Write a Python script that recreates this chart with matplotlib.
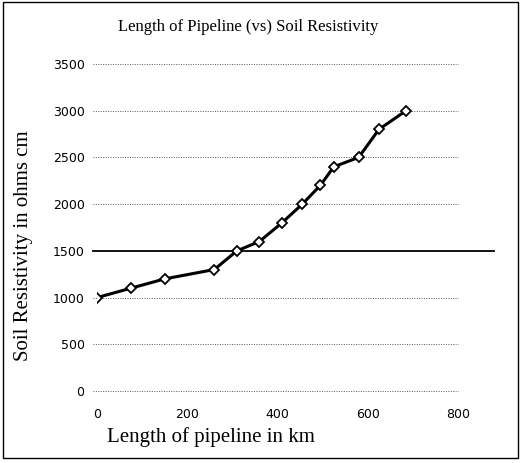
import matplotlib.pyplot as plt
from matplotlib.patches import Rectangle

# data
length_km = [0, 75, 150, 260, 310, 360, 410, 455, 495, 525, 580, 625, 685]
resistivity = [1000, 1100, 1200, 1300, 1500, 1600, 1800, 2000, 2200, 2400, 2500, 2800, 3000]
x_ticks = [0, 200, 400, 600, 800]
y_ticks = [0, 500, 1000, 1500, 2000, 2500, 3000, 3500]
ref_level = 1500

serif = 'Liberation Serif'

fig = plt.figure(figsize=(5.23, 4.63), dpi=100)
ax = fig.add_axes([0.1855, 0.1555, 0.690, 0.7063])

ax.plot(length_km, resistivity, color='black', lw=2.2, marker='D', ms=5,
        mfc='white', mec='black', mew=1.3, zorder=4)

# solid horizontal reference line running past the plot area
ax.plot([-10, 880], [ref_level, ref_level], color='black', lw=1.3,
        clip_on=False, zorder=3)

ax.set_xlim(0, 800)
ax.set_ylim(0, 3500)
ax.set_xticks(x_ticks)
ax.set_yticks(y_ticks)
for y in y_ticks:
    if y != ref_level:
        ax.plot([-10, 800], [y, y], color='#555555', ls=(0, (1, 1.5)), lw=0.7,
                clip_on=False, zorder=1)
for s in ax.spines.values():
    s.set_visible(False)
ax.tick_params(length=0, labelsize=9, pad=9)
ax.tick_params(axis='x', pad=12)

fig.text(0.474, 0.942, 'Length of Pipeline (vs) Soil Resistivity', family=serif,
         fontsize=12, ha='center', va='center')
fig.text(0.205, 0.056, 'Length of pipeline in km', family=serif, fontsize=15,
         ha='left', va='center')
fig.text(0.044, 0.47, 'Soil Resistivity in ohms cm', family=serif, fontsize=15,
         rotation=90, ha='center', va='center')

# chart border
fig.patches.append(Rectangle((0.006, 0.01), 0.984, 0.985, transform=fig.transFigure,
                             fill=False, ec='black', lw=1.0))

fig.savefig('out.png', dpi=100)
